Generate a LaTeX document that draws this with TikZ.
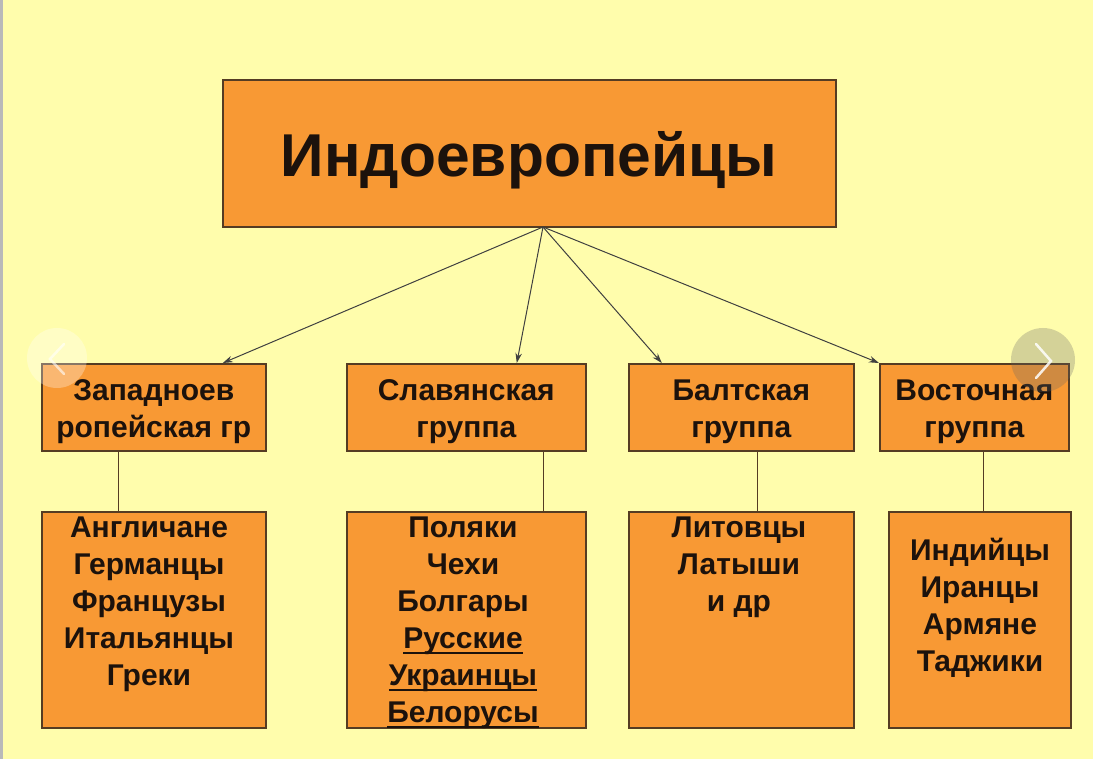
\documentclass[tikz,border=0pt]{standalone}
\usepackage{fontspec}
\setmainfont{Liberation Sans}
\usetikzlibrary{arrows.meta}
\definecolor{bg}{RGB}{255,253,172}
\definecolor{org}{RGB}{248,153,52}
\definecolor{edgec}{RGB}{85,60,35}
\definecolor{txt}{RGB}{28,18,12}
\newcommand\myul[1]{\setbox0\hbox{#1}\rlap{\rule[-5pt]{\wd0}{1.8pt}}\box0}
\begin{document}
\begin{tikzpicture}[x=1pt,y=-1pt,
  box/.style={draw=edgec, line width=1.6pt, fill=org, inner sep=0, anchor=north west},
  grp/.style={font=\bfseries\fontsize{30}{37}\selectfont, align=center, text=txt, inner sep=0},
  lst/.style={font=\bfseries\fontsize{30}{37}\selectfont, align=center, text=txt, anchor=north, inner sep=0},
  arr/.style={draw=black!75, line width=1pt, -{Stealth[length=10pt,width=6.5pt]}},
  ln/.style={draw=edgec, line width=1pt}]
\fill[bg] (0,0) rectangle (1093,759);
\useasboundingbox (0,0) rectangle (1093,759);
\fill[gray!55] (0,0) rectangle (3,759);
% top box
\node[box, minimum width=613pt, minimum height=147pt] (top) at (222,79) {};
\node[font=\bfseries\fontsize{60.5}{62}\selectfont, text=txt, anchor=base, inner sep=0] (title) at (529,177) {Индоевропейцы};
% group boxes
\node[box, minimum width=224pt, minimum height=87pt] (g1) at (41,363) {};
\node[box, minimum width=239pt, minimum height=87pt] (g2) at (346,363) {};
\node[box, minimum width=225pt, minimum height=87pt] (g3) at (628,363) {};
\node[box, minimum width=189pt, minimum height=87pt] (g4) at (879,363) {};
\node[grp] (t1) at ([yshift=-4pt]g1.center) {Западноев\\ропейская гр};
\node[grp] (t2) at ([yshift=-4pt]g2.center) {Славянская\\группа};
\node[grp] (t3) at ([yshift=-4pt]g3.center) {Балтская\\группа};
\node[grp] (t4) at ([yshift=-4pt]g4.center) {Восточная\\группа};
% list boxes
\node[box, minimum width=224pt, minimum height=216pt] (l1) at (41,511) {};
\node[box, minimum width=239pt, minimum height=216pt] (l2) at (346,511) {};
\node[box, minimum width=225pt, minimum height=216pt] (l3) at (628,511) {};
\node[box, minimum width=182pt, minimum height=216pt] (l4) at (888,511) {};
\node[lst] (s1) at (149,517) {Англичане\\Германцы\\Французы\\Итальянцы\\Греки};
\node[lst] (s2) at (463,517) {Поляки\\Чехи\\Болгары\\\myul{Русские}\\\myul{Украинцы}\\\myul{Белорусы}};
\node[lst] (s3) at (739,517) {Литовцы\\Латыши\\и др};
\node[lst] (s4) at (980,538) {Индийцы\\Иранцы\\Армяне\\Таджики};
% connectors
\coordinate (hub) at (543,227);
\draw[arr] (hub) -- ([xshift=69pt]g1.north);
\draw[arr] (hub) -- ([xshift=50.5pt]g2.north);
\draw[arr] (hub) -- ([xshift=-79.5pt]g3.north);
\draw[arr] (hub) -- (g4.north west);
\draw[ln] ([xshift=-35pt]g1.south) -- ([xshift=-35pt]g1.south |- l1.north);
\draw[ln] ([xshift=77.5pt]g2.south) -- ([xshift=77.5pt]g2.south |- l2.north);
\draw[ln] ([xshift=16.5pt]g3.south) -- ([xshift=16.5pt]g3.south |- l3.north);
\draw[ln] ([xshift=9.5pt]g4.south) -- ([xshift=9.5pt]g4.south |- l4.north);
% carousel buttons
\fill[white, opacity=0.3] (57,358) circle (30);
\draw[white, opacity=0.6, line width=2.5pt, line cap=round] (64,344) -- (50,359) -- (64,374);
\fill[black!60, opacity=0.28] (1043,360) circle (32);
\draw[white, opacity=0.85, line width=2.5pt, line cap=round] (1036,344) -- (1051,361) -- (1036,378);
\end{tikzpicture}
\end{document}
